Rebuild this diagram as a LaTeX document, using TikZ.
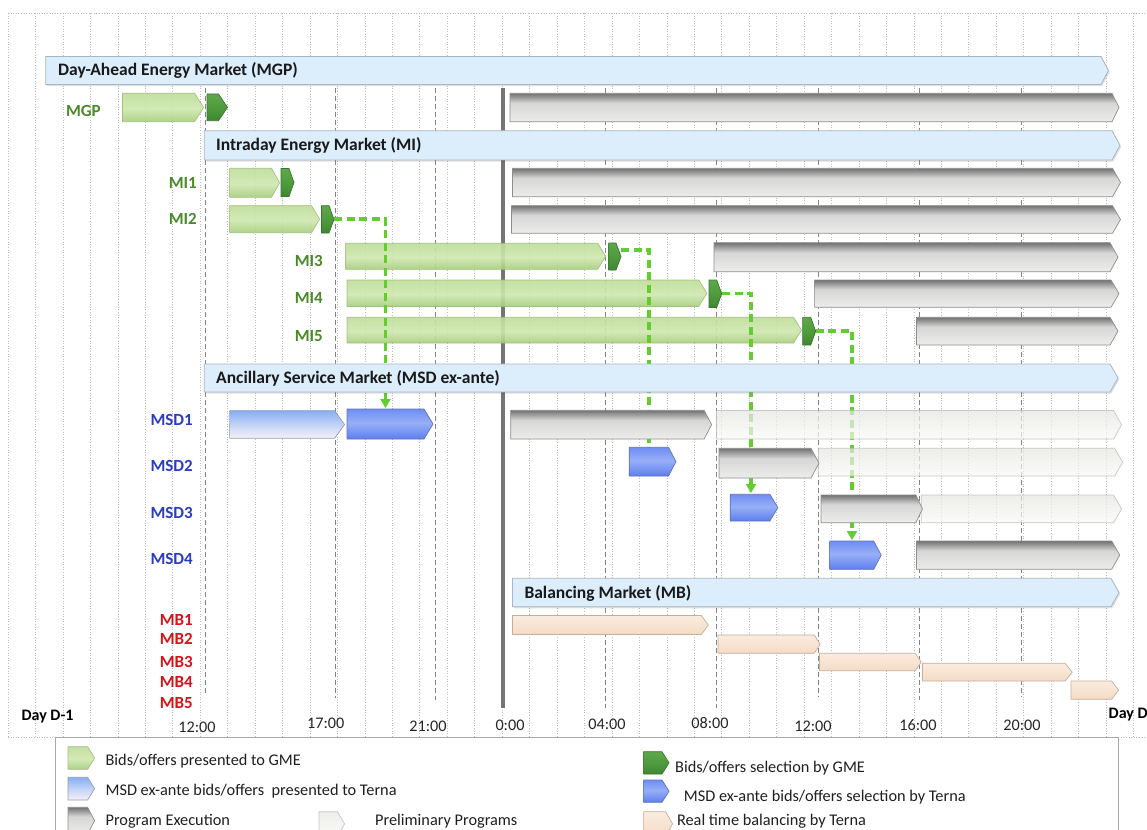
\documentclass[tikz,border=0pt]{standalone}
\usepackage{fontspec}
\setmainfont{Carlito}
\usetikzlibrary{shadows,arrows.meta}
\definecolor{hdrF}{HTML}{DCEDFB}
\definecolor{hdrD}{HTML}{A6B6C4}
\definecolor{gT}{HTML}{BEDD98}
\definecolor{gM}{HTML}{CFE8B0}
\definecolor{gB}{HTML}{A7CE7C}
\definecolor{gD}{HTML}{9CBD78}
\definecolor{dgT}{HTML}{5FA74B}
\definecolor{dgM}{HTML}{509B3F}
\definecolor{dgB}{HTML}{3E8731}
\definecolor{dgD}{HTML}{3D7431}
\definecolor{lbT}{HTML}{86AEF6}
\definecolor{lbM}{HTML}{C2D3F5}
\definecolor{lbB}{HTML}{F4F1F8}
\definecolor{lbD}{HTML}{9A9DB0}
\definecolor{dbT}{HTML}{6D8EF3}
\definecolor{dbM}{HTML}{98AFF7}
\definecolor{dbB}{HTML}{5C7FEE}
\definecolor{dbD}{HTML}{6272B8}
\definecolor{exT}{HTML}{727272}
\definecolor{exM}{HTML}{D6D6D6}
\definecolor{exB}{HTML}{EDEDEB}
\definecolor{exD}{HTML}{8E8E8E}
\definecolor{prT}{HTML}{E6E6E2}
\definecolor{prB}{HTML}{FAFAF8}
\definecolor{prD}{HTML}{B4B4B4}
\definecolor{peT}{HTML}{FBECDF}
\definecolor{peB}{HTML}{F4DBC5}
\definecolor{peD}{HTML}{C4AF9C}
\definecolor{lgreen}{HTML}{4A8A2A}
\definecolor{lblue}{HTML}{2A3DC2}
\definecolor{lred}{HTML}{D3151B}
\definecolor{connc}{HTML}{63CC2E}
\definecolor{gridc}{HTML}{BCBCBC}
\definecolor{hourc}{HTML}{858585}
\definecolor{thickc}{HTML}{747474}
\definecolor{legD}{HTML}{A8A8A8}
\pgfdeclareverticalshading{grnsh}{100bp}{color(0bp)=(gB);color(25bp)=(gB);color(48bp)=(gM);color(75bp)=(gT);color(100bp)=(gT)}
\pgfdeclareverticalshading{dgrnsh}{100bp}{color(0bp)=(dgB);color(25bp)=(dgB);color(50bp)=(dgM);color(75bp)=(dgT);color(100bp)=(dgT)}
\pgfdeclareverticalshading{lblsh}{100bp}{color(0bp)=(lbB);color(25bp)=(lbB);color(50bp)=(lbM);color(75bp)=(lbT);color(100bp)=(lbT)}
\pgfdeclareverticalshading{dblsh}{100bp}{color(0bp)=(dbB);color(25bp)=(dbB);color(52bp)=(dbM);color(75bp)=(dbT);color(100bp)=(dbT)}
\pgfdeclareverticalshading{exesh}{100bp}{color(0bp)=(exB);color(25bp)=(exB);color(58bp)=(exM);color(75bp)=(exT);color(100bp)=(exT)}
\pgfdeclareverticalshading{presh}{100bp}{color(0bp)=(prB);color(25bp)=(prB);color(75bp)=(prT);color(100bp)=(prT)}
\pgfdeclareverticalshading{pchsh}{100bp}{color(0bp)=(peB);color(25bp)=(peB);color(75bp)=(peT);color(100bp)=(peT)}
% pentagon arrow bar: [tip]{x1}{y1}{x2}{y2}{style}
\newcommand\pent[6][8]{\path[#6] (#2,#3) -- ({#4-#1},#3) -- (#4,{(#3+#5)/2}) -- ({#4-#1},#5) -- (#2,#5) -- cycle;}
\tikzset{
  hdr/.style={fill=hdrF,draw=hdrD,line width=0.8pt,drop shadow={shadow xshift=1.2pt,shadow yshift=-1.6pt,fill=black,opacity=0.12}},
  grn/.style={shade,shading=grnsh,draw=gD,line width=0.7pt,opacity=0.9},
  dgrn/.style={shade,shading=dgrnsh,draw=dgD,line width=0.7pt},
  lblu/.style={shade,shading=lblsh,draw=lbD,line width=0.7pt},
  dblu/.style={shade,shading=dblsh,draw=dbD,line width=0.7pt},
  exe/.style={shade,shading=exesh,draw=exD,line width=0.7pt},
  pre/.style={shade,shading=presh,draw=prD,line width=0.7pt,opacity=0.7},
  pch/.style={shade,shading=pchsh,draw=peD,line width=0.7pt},
  gridline/.style={draw=gridc,line width=0.6pt,dash pattern=on 1pt off 1.6pt},
  hourline/.style={draw=hourc,line width=0.9pt,dash pattern=on 5pt off 3pt},
  connline/.style={draw=connc,line width=3.2pt,dash pattern=on 8pt off 4.5pt},
  conntip/.style={-{Triangle[length=9pt,width=10pt]}},
  hdrtxt/.style={anchor=base west,inner sep=0pt,font=\fontsize{17.5}{20}\selectfont\bfseries,text=black!90},
  rowlab/.style={anchor=base east,inner sep=0pt,font=\fontsize{17}{20}\selectfont\bfseries},
  timelab/.style={anchor=base,inner sep=0pt,font=\fontsize{16.2}{19}\selectfont,text=black!85},
  daylab/.style={anchor=base west,inner sep=0pt,font=\fontsize{16}{19}\selectfont\bfseries},
  legtxt/.style={anchor=base west,inner sep=0pt,font=\fontsize{16.3}{19}\selectfont,text=black!88},
}
\begin{document}
\begin{tikzpicture}[x=1pt,y=-1pt]
\useasboundingbox (0,0) rectangle (1147,829);
\fill[white] (0,0) rectangle (1147,829);
% background grid
\foreach \k in {0,...,41} \draw[gridline] ({8+27.45*\k},13) -- ({8+27.45*\k},737);
\draw[gridline] (8,13) -- (1147,13);
\draw[gridline] (8,737) -- (1147,737);
% hour lines
\foreach \x/\yb in {205/693,335/698,435/700,605.7/708,716/708,818/697,919.4/700,1021.6/697}
  \draw[hourline] (\x,88) -- (\x,\yb);
% midnight line
\draw[draw=thickc,line width=3.2pt] (503,88) -- (503,708);
% green bids/offers presented to GME
\pent[9]{122.5}{93.3}{203.6}{121.7}{grn}
\pent{229.6}{168.3}{279.6}{197.3}{grn}
\pent{229.6}{205.7}{319.6}{232.7}{grn}
\pent{345.7}{243.3}{605.7}{269.3}{grn}
\pent{347}{280}{706.8}{306.5}{grn}
\pent{347}{317.3}{801.5}{343}{grn}
% selections by GME
\pent[9]{207}{94}{227.5}{120.7}{dgrn}
\pent[5]{281}{168.5}{294}{196.5}{dgrn}
\pent[5]{321.4}{205.7}{334}{233}{dgrn}
\pent[5]{608.7}{243}{621}{270}{dgrn}
\pent[5]{709}{280}{721.7}{307.5}{dgrn}
\pent[5]{802.6}{317.3}{815.7}{345}{dgrn}
% connectors
\coordinate (c2a) at (334,219);
\coordinate (c2b) at (385.5,219);
\coordinate (c2c) at (385.5,408);
\coordinate (c3a) at (621,250);
\coordinate (c3b) at (649,250);
\coordinate (c3c) at (649,448);
\coordinate (c4a) at (722,293.3);
\coordinate (c4b) at (751,293.3);
\coordinate (c4c) at (751,493);
\coordinate (c5a) at (815.7,331);
\coordinate (c5b) at (852,331);
\coordinate (c5c) at (852,540);
\draw[connline,conntip] (c2a) -- (c2b) -- (c2c);
\draw[connline] (c3a) -- (c3b) -- (c3c);
\draw[connline,conntip] (c4a) -- (c4b) -- (c4c);
\draw[connline,conntip] (c5a) -- (c5b) -- (c5c);
% market headers
\pent[7.5]{45.7}{56.5}{1108.5}{84.5}{hdr}
\pent[8]{204.3}{130.7}{1120}{160}{hdr}
\pent[8]{204.3}{364}{1118}{392}{hdr}
\pent[8]{512.5}{578.3}{1119}{606.7}{hdr}
\node[hdrtxt] (tDA) at (58,76) {Day-Ahead Energy Market (MGP)};
\node[hdrtxt] (tMI) at (216,150.8) {Intraday Energy Market (MI)};
\node[hdrtxt] (tMSD) at (216,383.5) {Ancillary Service Market (MSD ex-ante)};
\node[hdrtxt] (tMB) at (524.3,598) {Balancing Market (MB)};
% preliminary programs
\pent{716.5}{410.5}{1121.6}{439}{pre}
\pent{818.3}{448.3}{1122.7}{476}{pre}
\pent{921.3}{495}{1121.6}{522.7}{pre}
% program execution
\pent[7]{510}{93.3}{1119}{121.7}{exe}
\pent{512.5}{168.3}{1120.5}{196.7}{exe}
\pent{511.5}{205.7}{1120.5}{233.3}{exe}
\pent{714}{242.7}{1118}{271.7}{exe}
\pent{814.6}{280}{1119}{307.3}{exe}
\pent{916.4}{317.3}{1118}{345}{exe}
\pent[7.5]{510.7}{410.3}{711.6}{439}{exe}
\pent{719}{448.3}{819}{478}{exe}
\pent[6.5]{821}{495}{922.4}{522.7}{exe}
\pent{916.4}{541}{1119.7}{569.3}{exe}
% MSD bids
\pent[10]{229.6}{410.7}{344.6}{438.3}{lblu}
\pent[9]{347}{409}{433}{439}{dblu}
\pent[7.5]{629.3}{447.3}{676}{476}{dblu}
\pent[8]{730.3}{494.3}{777.9}{521}{dblu}
\pent[7.5]{829.6}{541}{881.2}{569.3}{dblu}
% balancing
\pent[7]{512.5}{615.5}{708.3}{634.5}{pch}
\pent[6]{718}{635}{820.2}{653.3}{pch}
\pent[6]{819.5}{653.3}{921.3}{670.7}{pch}
\pent[7]{922.4}{663.3}{1072.2}{681}{pch}
\pent[7]{1071}{681}{1118.6}{699.3}{pch}
% row labels
\node[rowlab,text=lgreen] (lMGP) at (101,117) {MGP};
\node[rowlab,text=lgreen] (lMI1) at (197,188.2) {MI1};
\node[rowlab,text=lgreen] (lMI2) at (197,224.5) {MI2};
\node[rowlab,text=lgreen] (lMI3) at (323,266.5) {MI3};
\node[rowlab,text=lgreen] (lMI4) at (323,303.5) {MI4};
\node[rowlab,text=lgreen] (lMI5) at (323,341.5) {MI5};
\node[rowlab,text=lblue] (lMSD1) at (193,425.5) {MSD1};
\node[rowlab,text=lblue] (lMSD2) at (193,471.5) {MSD2};
\node[rowlab,text=lblue] (lMSD3) at (193,518.2) {MSD3};
\node[rowlab,text=lblue] (lMSD4) at (193,564.8) {MSD4};
\node[rowlab,text=lred] (lMB1) at (193,625.5) {MB1};
\node[rowlab,text=lred] (lMB2) at (193,644.8) {MB2};
\node[rowlab,text=lred] (lMB3) at (193,667.2) {MB3};
\node[rowlab,text=lred] (lMB4) at (193,687.2) {MB4};
\node[rowlab,text=lred] (lMB5) at (193,708.8) {MB5};
% time axis
\node[daylab] (dDm1) at (21.4,720.2) {Day D-1};
\node[daylab] (dD) at (1108.5,718.5) {Day D};
\node[timelab] (h1) at (197,732.2) {12:00};
\node[timelab] (h2) at (325.7,728.5) {17:00};
\node[timelab] (h3) at (428,731) {21:00};
\node[timelab] (h4) at (510,730.2) {0:00};
\node[timelab] (h5) at (607,729.5) {04:00};
\node[timelab] (h6) at (710,728.5) {08:00};
\node[timelab] (h7) at (813,731.2) {12:00};
\node[timelab] (h8) at (918,730.2) {16:00};
\node[timelab] (h9) at (1022,730.2) {20:00};
% legend
\draw[draw=legD,fill=white,line width=0.8pt] (55.4,737.7) rectangle (1118.8,850);
\pent[7]{68}{746.7}{94.6}{769.3}{grn}
\pent[7]{68}{777.3}{94.6}{800}{lblu}
\pent[7]{68}{807.3}{94.6}{834}{exe}
\pent[7]{319}{811.7}{344.6}{836}{pre}
\pent[7]{643.6}{751.7}{669}{774}{dgrn}
\pent[7]{643.6}{780}{669}{802.3}{dblu}
\pent[7]{643.6}{811.7}{672.6}{836}{pch}
\node[legtxt] (g1) at (105.4,765.9) {Bids/offers presented to GME};
\node[legtxt] (g2) at (105.4,795.9) {MSD ex-ante bids/offers\ \ presented to Terna};
\node[legtxt] (g3) at (105.4,825.2) {Program Execution};
\node[legtxt] (g4) at (375,825.2) {Preliminary Programs};
\node[legtxt] (g5) at (675,772.5) {Bids/offers selection by GME};
\node[legtxt] (g6) at (683.7,801.9) {MSD ex-ante bids/offers selection by Terna};
\node[legtxt] (g7) at (676.8,825.3) {Real time balancing by Terna};
\end{tikzpicture}
\end{document}
